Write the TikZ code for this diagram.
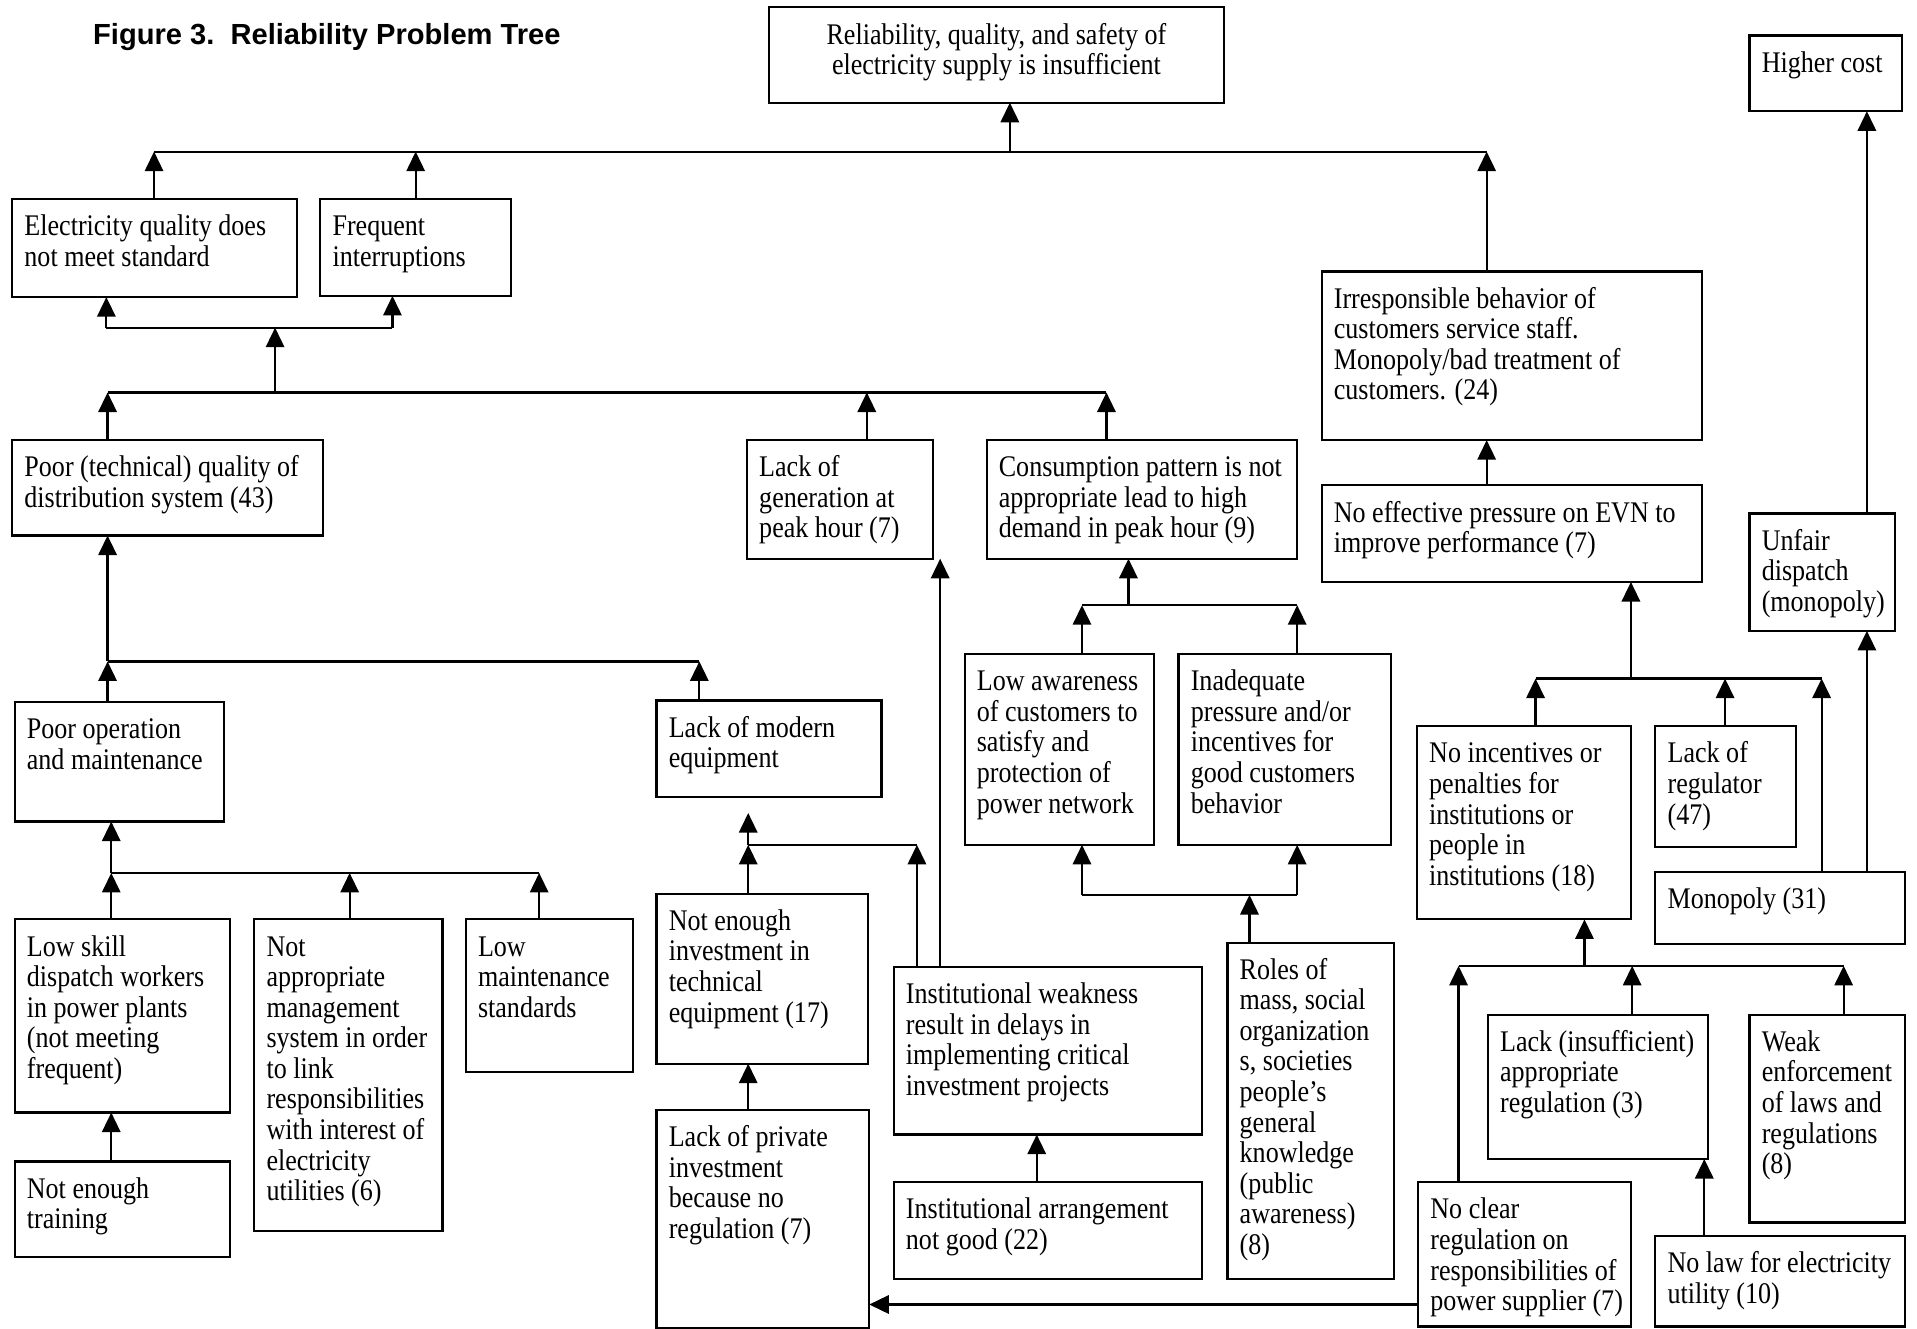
\documentclass[tikz,border=0pt]{standalone}
\usepackage{fontspec}
\setmainfont[FakeStretch=0.87]{Liberation Serif}
\newfontfamily\titlefont{Liberation Sans}
\usetikzlibrary{arrows.meta}
\newcommand{\boxfmt}{\fontsize{24.5pt}{25pt}\selectfont\raggedright\leftskip=10pt\vspace*{12.5pt}\strut}
\newcommand{\mkbox}[6]{\node[bxs, anchor=north west] (#1) at (#2,#3) {\parbox[c][\dimexpr#5pt-#3pt\relax][t]{\dimexpr#4pt-#2pt\relax}{\boxfmt #6}};}
\begin{document}
\begin{tikzpicture}[x=1pt,y=-1pt,
  bxs/.style={draw, line width=1.8pt, inner sep=0pt, outer sep=0pt},
  ln/.style={line width=1.8pt},
  arr/.style={line width=1.8pt, -{Triangle[length=16pt,width=15pt]}}]
\useasboundingbox (0,0) rectangle (1568,1087);
\node[anchor=base west, font=\titlefont\bfseries\fontsize{23.8pt}{28pt}\selectfont, inner sep=0pt] (title) at (76,36.5) {Figure 3.\ \ Reliability Problem Tree};

\mkbox{n1}{629}{6}{1001}{84}{\centering Reliability, quality, and safety of\\ electricity supply is insufficient}
\mkbox{n2}{1431}{29}{1556}{91}{Higher cost}
\mkbox{n3}{10}{163}{243}{243}{Electricity quality does\\ not meet standard}
\mkbox{n4}{262}{163}{418}{242}{Frequent\\ interruptions}
\mkbox{n5}{1081}{222}{1392}{360}{Irresponsible behavior of\\ customers service staff.\\ Monopoly/bad treatment of\\ customers. (24)}
\mkbox{n6}{10}{360}{264}{438}{Poor (technical) quality of\\ distribution system (43)}
\mkbox{n7}{611}{360}{763}{457}{Lack of\\ generation at\\ peak hour (7)}
\mkbox{n8}{807}{360}{1061}{457}{Consumption pattern is not\\ appropriate lead to high\\ demand in peak hour (9)}
\mkbox{n9}{1081}{397}{1392}{476}{No effective pressure on EVN to\\ improve performance (7)}
\mkbox{n10}{1431}{420}{1550}{516}{Unfair\\ dispatch\\ (monopoly)}
\mkbox{n11}{12}{574}{183}{672}{Poor operation\\ and maintenance}
\mkbox{n12}{537}{573}{721}{652}{Lack of modern\\ equipment}
\mkbox{n13}{789}{535}{944}{691}{Low awareness\\ of customers to\\ satisfy and\\ protection of\\ power network}
\mkbox{n14}{964}{535}{1138}{691}{Inadequate\\ pressure and/or\\ incentives for\\ good customers\\ behavior}
\mkbox{n15}{1159}{594}{1334}{752}{No incentives or\\ penalties for\\ institutions or\\ people in\\ institutions (18)}
\mkbox{n16}{1354}{594}{1469}{693}{Lack of\\ regulator\\ (47)}
\mkbox{n17}{1354}{713}{1558}{772}{Monopoly (31)}
\mkbox{n18}{12}{752}{188}{910}{Low skill\\ dispatch workers\\ in power plants\\ (not meeting\\ frequent)}
\mkbox{n19}{208}{752}{362}{1007}{Not\\ appropriate\\ management\\ system in order\\ to link\\ responsibilities\\ with interest of\\ electricity\\ utilities (6)}
\mkbox{n20}{381}{752}{518}{877}{Low\\ maintenance\\ standards}
\mkbox{n21}{537}{731}{710}{870}{Not enough\\ investment in\\ technical\\ equipment (17)}
\mkbox{n22}{731}{791}{983}{928}{Institutional weakness\\ result in delays in\\ implementing critical\\ investment projects}
\mkbox{n23}{1004}{771}{1140}{1046}{Roles of\\ mass, social\\ organization\\ s, societies\\ people’s\\ general\\ knowledge\\ (public\\ awareness)\\ (8)}
\mkbox{n24}{1217}{830}{1397}{948}{Lack (insufficient)\\ appropriate\\ regulation (3)}
\mkbox{n25}{1431}{830}{1558}{1000}{Weak\\ enforcement\\ of laws and\\ regulations\\ (8)}
\mkbox{n26}{12}{950}{188}{1028}{Not enough\\ training}
\mkbox{n27}{537}{908}{711}{1086}{Lack of private\\ investment\\ because no\\ regulation (7)}
\mkbox{n28}{731}{967}{983}{1046}{Institutional arrangement\\ not good (22)}
\mkbox{n29}{1160}{967}{1334}{1085}{No clear\\ regulation on\\ responsibilities of\\ power supplier (7)}
\mkbox{n30}{1354}{1011}{1558}{1085}{No law for electricity\\ utility (10)}

% junction coordinates
\coordinate (t1) at (126,124); \coordinate (t2) at (340,124);
\coordinate (t3) at (826,124); \coordinate (t4) at (1216,124);
\coordinate (u1) at (87,268); \coordinate (u2) at (321,268); \coordinate (u3) at (225,268);
\coordinate (v1) at (88,321); \coordinate (v2) at (225,321);
\coordinate (v3) at (709,321); \coordinate (v4) at (905,321);
\coordinate (w1) at (885,495); \coordinate (w2) at (923,495); \coordinate (w3) at (1061,495);
\coordinate (x1) at (885,732); \coordinate (x2) at (1022,732); \coordinate (x3) at (1061,732);
\coordinate (y1) at (88,541); \coordinate (y2) at (572,541);
\coordinate (z1) at (91,714); \coordinate (z2) at (286,714); \coordinate (z3) at (441,714);
\coordinate (a1) at (612,691); \coordinate (a2) at (750,691); \coordinate (a3) at (612,665);
\coordinate (a4) at (769,0); \coordinate (c1) at (848,0); \coordinate (k1) at (0,1067);
\coordinate (b1) at (1193,790); \coordinate (b2) at (1296,790);
\coordinate (b3) at (1335,790); \coordinate (b4) at (1508,790);
\coordinate (c2) at (1394,0);
\coordinate (d1) at (1256,555); \coordinate (d2) at (1334,555);
\coordinate (d3) at (1411,555); \coordinate (d4) at (1490,555);
\coordinate (e1) at (1527,0);

% top level
\draw[ln] (t1) -- (t4);
\draw[arr] (n3.north -| t1) -- (t1);
\draw[arr] (n4.north -| t2) -- (t2);
\draw[arr] (t3) -- (n1.south -| t3);
\draw[arr] (n5.north -| t4) -- (t4);
% quality / interruptions
\draw[ln] (u1) -- (u2);
\draw[arr] (u1) -- (n3.south -| u1);
\draw[arr] (u2) -- (n4.south -| u2);
\draw[ln] (v1) -- (v4);
\draw[arr] (v2) -- (u3);
\draw[arr] (n6.north -| v1) -- (v1);
\draw[arr] (n7.north -| v3) -- (v3);
\draw[arr] (n8.north -| v4) -- (v4);
% consumption pattern
\draw[ln] (w1) -- (w3);
\draw[arr] (w2) -- (n8.south -| w2);
\draw[arr] (n13.north -| w1) -- (w1);
\draw[arr] (n14.north -| w3) -- (w3);
\draw[ln] (x1) -- (x3);
\draw[arr] (x1) -- (n13.south -| x1);
\draw[arr] (x3) -- (n14.south -| x3);
\draw[arr] (n23.north -| x2) -- (x2);
% poor technical quality
\draw[ln] (y1) -- (y2);
\draw[arr] (y1) -- (n6.south -| y1);
\draw[arr] (n11.north -| y1) -- (y1);
\draw[arr] (n12.north -| y2) -- (y2);
% poor operation
\draw[ln] (z1) -- (z3);
\draw[arr] (z1) -- (n11.south -| z1);
\draw[arr] (n18.north -| z1) -- (z1);
\draw[arr] (n19.north -| z2) -- (z2);
\draw[arr] (n20.north -| z3) -- (z3);
\draw[arr] (n26.north -| z1) -- (n18.south -| z1);
% modern equipment
\draw[ln] (a1) -- (a2);
\draw[arr] (a1) -- (a3);
\draw[arr] (n21.north -| a1) -- (a1);
\draw[arr] (n22.north -| a2) -- (a2);
\draw[arr] (n22.north -| a4) -- (n7.south -| a4);
\draw[arr] (n27.north -| a1) -- (n21.south -| a1);
\draw[arr] (n28.north -| c1) -- (n22.south -| c1);
\draw[arr] (n29.west |- k1) -- (n27.east |- k1);
% incentives
\draw[ln] (b1) -- (b4);
\draw[arr] (b2) -- (n15.south -| b2);
\draw[arr] (n29.north -| b1) -- (b1);
\draw[arr] (n24.north -| b3) -- (b3);
\draw[arr] (n25.north -| b4) -- (b4);
\draw[arr] (n30.north -| c2) -- (n24.south -| c2);
% effective pressure
\draw[ln] (d1) -- (d4);
\draw[arr] (d2) -- (n9.south -| d2);
\draw[arr] (n15.north -| d1) -- (d1);
\draw[arr] (n16.north -| d3) -- (d3);
\draw[arr] (n17.north -| d4) -- (d4);
\draw[arr] (n9.north -| t4) -- (n5.south -| t4);
% higher cost chain
\draw[arr] (n17.north -| e1) -- (n10.south -| e1);
\draw[arr] (n10.north -| e1) -- (n2.south -| e1);
\end{tikzpicture}
\end{document}
